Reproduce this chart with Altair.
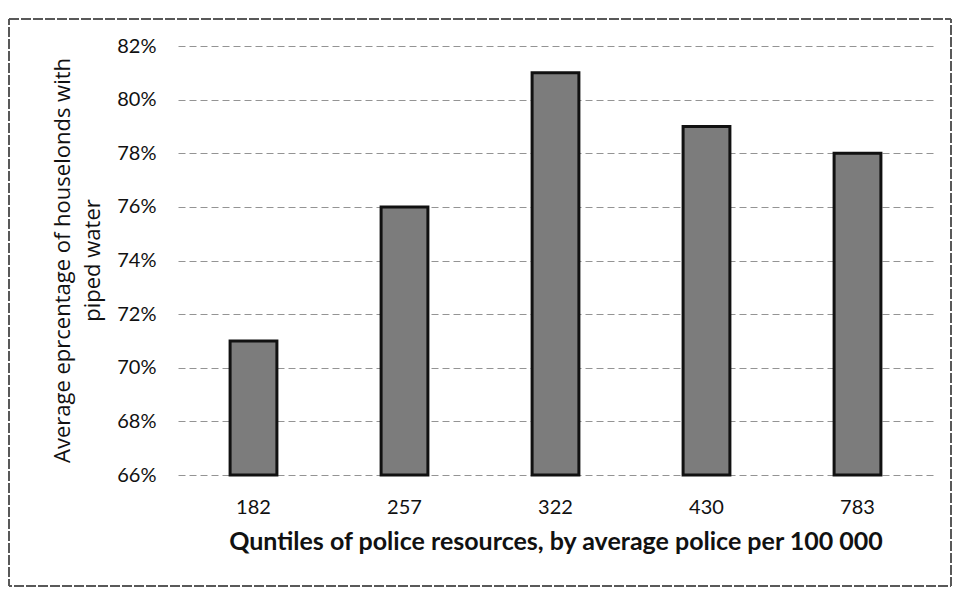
import altair as alt
import pandas as pd

quintiles = ["182", "257", "322", "430", "783"]
piped_share = [0.71, 0.76, 0.81, 0.79, 0.78]
y_ticks = [0.66, 0.68, 0.70, 0.72, 0.74, 0.76, 0.78, 0.80, 0.82]

df = pd.DataFrame({"q": quintiles, "v": piped_share, "base": [0.66] * len(quintiles)})

bars = alt.Chart(df).mark_bar(
    fill="#7c7c7c", stroke="#111111", strokeWidth=3
).encode(
    x=alt.X("q:N", sort=quintiles,
            scale=alt.Scale(paddingInner=0.69, paddingOuter=0.345),
            axis=alt.Axis(title="Quntiles of police resources, by average police per 100 000",
                          labelAngle=0, ticks=False, domain=False, labelPadding=22,
                          labelFont="Lato", labelFontSize=20, labelColor="#111",
                          titleFont="Lato", titleFontSize=25, titleFontWeight="bold",
                          titleColor="#111", titlePadding=12)),
    y=alt.Y("v:Q",
            scale=alt.Scale(domain=[0.66, 0.82], nice=False, zero=False),
            axis=alt.Axis(values=y_ticks, format=".0%", ticks=False, domain=False,
                          labelPadding=22, labelFont="Lato", labelFontSize=20, labelColor="#111",
                          grid=True, gridDash=[7, 4], gridColor="#666", gridOpacity=0.7,
                          title=["Average eprcentage of houselonds with", "piped water"],
                          titleFont="Open Sans", titleFontSize=22, titleFontWeight="normal",
                          titleColor="#111", titleAngle=-90, titleAlign="center",
                          titleBaseline="middle", titleLineHeight=30,
                          titleX=-116, titleY=214)),
    y2="base:Q",
)

frame = alt.Chart(df).mark_rect(
    fill=None, stroke="#555", strokeWidth=1, strokeDash=[10, 2]
).encode(
    x=alt.value(-169), x2=alt.value(773), y=alt.value(-27), y2=alt.value(540)
)

chart = alt.layer(frame, bars).properties(
    width=755, height=429,
    autosize=alt.AutoSizeParams(type="none"),
    padding={"left": 170, "top": 38, "right": 20, "bottom": 112},
).configure_view(stroke=None)

chart.save("out.html", embed_options={"renderer": "svg", "actions": False})
